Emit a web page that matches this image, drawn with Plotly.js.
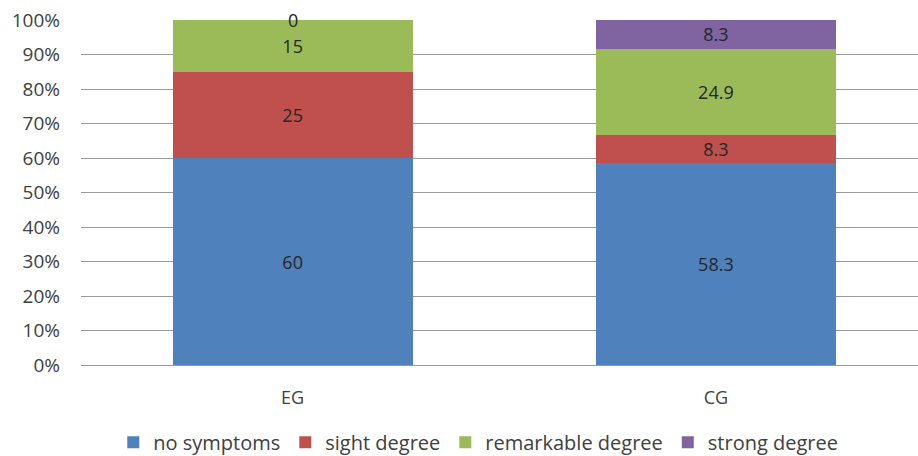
<!DOCTYPE html>
<html>
<head>
<meta charset="utf-8">
<script src="https://cdn.plot.ly/plotly-3.0.1.min.js"></script>
<style>html,body{margin:0;padding:0;background:#fff;}#chart{width:918px;height:456px;}</style>
</head>
<body>
<div id="chart"></div>
<script>
var groups = ["EG", "CG"];
var seriesNames = ["no symptoms", "sight degree", "remarkable degree", "strong degree"];
var noSymptoms = [60, 58.3];
var sightDegree = [25, 8.3];
var remarkableDegree = [15, 24.9];
var strongDegree = [0, 8.3];
var yTickVals = [0, 10, 20, 30, 40, 50, 60, 70, 80, 90, 100];
var yTickText = ["0%", "10%", "20%", "30%", "40%", "50%", "60%", "70%", "80%", "90%", "100%"];

var colors = ["#4F81BD", "#C0504D", "#9BBB59", "#8064A2"];
var allSeries = [noSymptoms, sightDegree, remarkableDegree, strongDegree];
var fontFam = "Open Sans, Noto Sans, sans-serif";

var traces = allSeries.map(function (vals, i) {
  return {
    type: "bar",
    name: seriesNames[i],
    x: groups,
    y: vals,
    text: vals.map(function (v) { return String(v); }),
    textposition: "inside",
    insidetextanchor: "middle",
    textangle: 0,
    constraintext: "none",
    textfont: { family: fontFam, size: 18, color: "#262626" },
    marker: { color: colors[i], line: { width: 0 } },
    hoverinfo: "name+y"
  };
});

// labels for zero-height segments (drawn at their stacked position)
var annotations = [];
groups.forEach(function (g, gi) {
  var total = 0, cum = 0;
  allSeries.forEach(function (s) { total += s[gi]; });
  allSeries.forEach(function (s) {
    if (s[gi] === 0) {
      annotations.push({
        x: g, y: cum / total * 100, xref: "x", yref: "y",
        text: "0", showarrow: false, yanchor: "middle",
        font: { family: fontFam, size: 18, color: "#262626" }
      });
    }
    cum += s[gi];
  });
});

var layout = {
  width: 918, height: 456,
  margin: { l: 81, r: 0, t: 20, b: 91 },
  paper_bgcolor: "#fff", plot_bgcolor: "#fff",
  barmode: "stack",
  barnorm: "percent",
  bargap: 0.433,
  font: { family: fontFam, size: 18, color: "#404040" },
  xaxis: {
    type: "category",
    range: [-0.5, 1.4775],
    showgrid: false,
    showline: false,
    ticks: "",
    ticklabelstandoff: 20,
    tickfont: { family: fontFam, size: 18, color: "#404040" },
    fixedrange: true
  },
  yaxis: {
    range: [0, 100],
    tickvals: yTickVals,
    ticktext: yTickText,
    showgrid: true,
    gridcolor: "#999999",
    gridwidth: 1,
    zeroline: true,
    zerolinecolor: "#999999",
    zerolinewidth: 1,
    showline: false,
    ticks: "",
    ticklabelstandoff: 20,
    tickfont: { family: fontFam, size: 19, color: "#404040" },
    fixedrange: true
  },
  showlegend: true,
  legend: {
    orientation: "h",
    xref: "container", yref: "container",
    x: 0.521, xanchor: "center",
    y: 0.03, yanchor: "middle",
    traceorder: "normal",
    font: { family: fontFam, size: 20, color: "#404040" },
    itemwidth: 30
  },
  annotations: annotations
};

Plotly.newPlot("chart", traces, layout, { displayModeBar: false, staticPlot: true });
</script>
</body>
</html>
